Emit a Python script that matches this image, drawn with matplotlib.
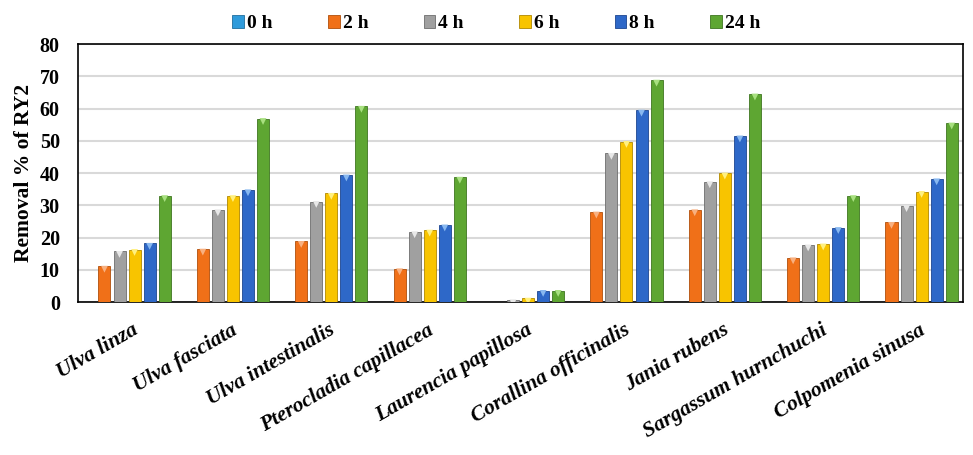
import numpy as np
import matplotlib.pyplot as plt

plt.rcParams['font.family'] = ['Liberation Serif', 'DejaVu Serif']

species = ['Ulva linza', 'Ulva fasciata', 'Ulva intestinalis', 'Pterocladia capillacea',
           'Laurencia papillosa', 'Corallina officinalis', 'Jania rubens',
           'Sargassum hurnchuchi', 'Colpomenia sinusa']
series_names = ['0 h', '2 h', '4 h', '6 h', '8 h', '24 h']

h0 = [0, 0, 0, 0, 0, 0, 0, 0, 0]
h2 = [11.1, 16.4, 18.8, 10.3, 0, 27.9, 28.6, 13.7, 24.7]
h4 = [15.7, 28.6, 31.2, 21.8, 0.7, 46.1, 37.3, 17.7, 29.9]
h6 = [16.3, 33.0, 33.7, 22.3, 1.2, 49.8, 40.0, 18.0, 34.3]
h8 = [18.2, 34.8, 39.4, 23.9, 3.6, 59.5, 51.5, 23.1, 38.2]
h24 = [33.0, 56.9, 60.7, 38.7, 3.6, 68.8, 64.5, 33.0, 55.5]

colors = ['#2F9BDB', '#F07018', '#A0A0A0', '#F8C400', '#2E68C8', '#5EA632']
edges = ['#1F6E9E', '#B04E0A', '#6E6E6E', '#B08800', '#1D4690', '#3E7520']
caps = ['#8FD0F5', '#F8B080', '#E8E8E8', '#FFF080', '#88B8F0', '#A8E080']

fig = plt.figure(figsize=(9.73, 4.55), dpi=100)
ax = fig.add_axes([0.080, 0.336, 0.910, 0.567])

x = np.arange(len(species))
step = 0.153
width = 0.122
data = [h0, h2, h4, h6, h8, h24]
for i, vals in enumerate(data):
    pos = x + (i - 2.5) * step
    ax.bar(pos, vals, width=width, color=colors[i], edgecolor=edges[i],
           linewidth=0.6, zorder=3, label=series_names[i])
    v = np.array(vals)
    m = v > 0.5
    # little light triangle on top, like the bevelled bars in the original
    ax.scatter(pos[m], v[m] - 0.9, marker='v', s=24, color=caps[i],
               edgecolors='none', zorder=4)

ax.set_xlim(-0.5, len(species) - 0.5)
ax.set_ylim(0, 80)
ax.set_yticks(range(0, 81, 10))
ax.yaxis.grid(True, color='#D9D9D9', linewidth=1.5, zorder=0)
ax.set_axisbelow(True)
ax.tick_params(axis='both', length=0)
ax.tick_params(axis='y', labelsize=14.5, pad=13)
for lab in ax.get_yticklabels():
    lab.set_fontweight('bold')

ax.set_xticks(x + 0.05)
ax.set_xticklabels(species, rotation=30, ha='right', va='top',
                   rotation_mode='anchor', fontsize=15.5,
                   fontweight='bold', fontstyle='italic')
ax.tick_params(axis='x', pad=13)

ax.set_ylabel('Removal % of RY2', fontsize=15.5, fontweight='bold', labelpad=4)
for s in ax.spines.values():
    s.set_color('black')
    s.set_linewidth(1.2)

leg = fig.legend(loc='upper center', bbox_to_anchor=(0.51, 1.005), ncol=6,
                 frameon=False, prop={'weight': 'bold', 'size': 14},
                 handlelength=0.6, handleheight=0.6, handletextpad=0.15,
                 columnspacing=2.85)

fig.savefig('out.png', dpi=100)
